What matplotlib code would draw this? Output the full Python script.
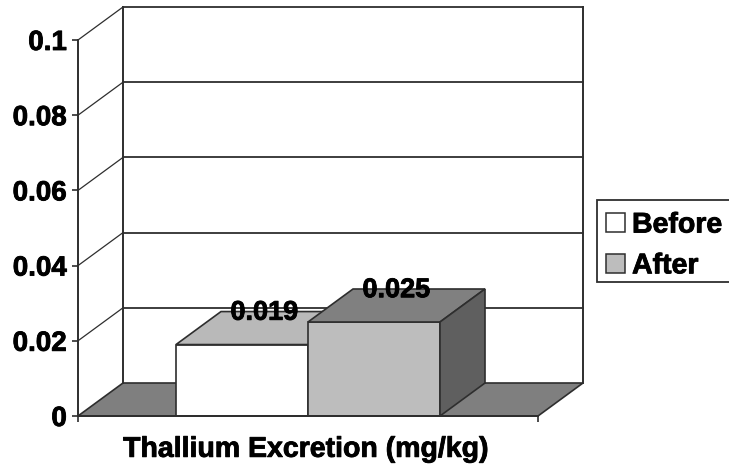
import matplotlib
matplotlib.use('Agg')
import matplotlib.pyplot as plt
import matplotlib.patheffects as pe
from matplotlib.patches import Polygon, Patch, Rectangle

categories = ['Before', 'After']
values = [0.019, 0.025]
tick_vals = [0, 0.02, 0.04, 0.06, 0.08, 0.1]
tick_labels = ['0', '0.02', '0.04', '0.06', '0.08', '0.1']
x_label = 'Thallium Excretion (mg/kg)'

W, H = 729, 468
plt.rcParams['font.family'] = 'Liberation Sans'
plt.rcParams['font.weight'] = 'bold'

line_col = '#2e2e2e'
front_cols = ['#ffffff', '#bdbdbd']
top_cols = ['#b9b9b9', '#808080']
side_col = '#5f5f5f'
floor_col = '#7f7f7f'
heavy = [pe.withStroke(linewidth=0.6, foreground='black')]

fig = plt.figure(figsize=(W / 100, H / 100), dpi=100)
ax = fig.add_axes([78 / W, (H - 416) / H, 460 / W, 376 / H])
ax.set_xlim(0, 1)
ax.set_ylim(0, 0.1)
ax.patch.set_alpha(0)

# depth of the fake 3d box, in data units
dx = 45 / 460
dy = 33 / 3760
bar_w = 132 / 460
bar_start = 98 / 460


def poly(pts, fc, z):
    ax.add_patch(Polygon(pts, closed=True, fc=fc, ec=line_col, lw=1.2, clip_on=False, zorder=z,
                         joinstyle='miter'))


# floor
poly([(0, 0), (dx, dy), (1 + dx, dy), (1, 0)], floor_col, 1)

# back wall and grid
ax.plot([dx, dx], [dy, 0.1 + dy], color=line_col, lw=1.4, clip_on=False, zorder=2)
ax.plot([1 + dx, 1 + dx], [dy, 0.1 + dy], color=line_col, lw=1.4, clip_on=False, zorder=2)
for t in tick_vals[1:]:
    ax.plot([0, dx], [t, t + dy], color=line_col, lw=0.9, clip_on=False, zorder=2)
    ax.plot([dx, 1 + dx], [t + dy, t + dy], color=line_col, lw=1.3, clip_on=False, zorder=2)

# bars
for i, v in enumerate(values):
    x0 = bar_start + i * bar_w
    x1 = x0 + bar_w
    poly([(x0, 0), (x0, v), (x1, v), (x1, 0)], front_cols[i], 3)
    poly([(x0, v), (x0 + dx, v + dy), (x1 + dx, v + dy), (x1, v)], top_cols[i], 3)
    if i == len(values) - 1:
        poly([(x1, 0), (x1 + dx, dy), (x1 + dx, v + dy), (x1, v)], side_col, 3)
for i, v in enumerate(values):
    x0 = bar_start + i * bar_w
    ax.annotate('%.3f' % v, (x0 + bar_w / 2 + dx / 2, v + dy / 2), xytext=(0, 11),
                textcoords='offset points', ha='center', va='center', fontsize=19.5, color='black',
                zorder=5, path_effects=heavy)

# axes
for s in ['top', 'right']:
    ax.spines[s].set_visible(False)
for s in ['left', 'bottom']:
    ax.spines[s].set_color(line_col)
    ax.spines[s].set_linewidth(1.4)
    ax.spines[s].set_zorder(4)
ax.set_yticks(tick_vals)
ax.set_yticklabels(tick_labels, fontsize=20, color='black', path_effects=heavy)
ax.set_xticks([0, 1])
ax.set_xticklabels(['', ''])
ax.tick_params(axis='both', color=line_col, length=4, width=1.2, pad=4)
ax.set_xlabel(x_label, fontsize=20.5, fontweight='bold', labelpad=7, x=0.495, color='black',
              path_effects=heavy)

# legend box runs off the right edge, so it is drawn apart from the legend
fig.add_artist(Rectangle((597 / W, (H - 282) / H), 140 / W, 82 / H, transform=fig.transFigure,
                         fc='white', ec=line_col, lw=1.3, zorder=-1))
handles = [Patch(fc=front_cols[i], ec=line_col, lw=1.1) for i in range(2)]
leg = ax.legend(handles, categories, loc='upper left', bbox_to_anchor=(597 / W, (H - 204) / H),
                bbox_transform=fig.transFigure, frameon=False, handlelength=0.68, handleheight=0.68,
                handletextpad=0.25, labelspacing=0.52, borderpad=0.3, borderaxespad=0,
                prop={'weight': 'bold', 'size': 20.5})
for t in leg.get_texts():
    t.set_path_effects(heavy)

fig.savefig('out.png', dpi=100)
